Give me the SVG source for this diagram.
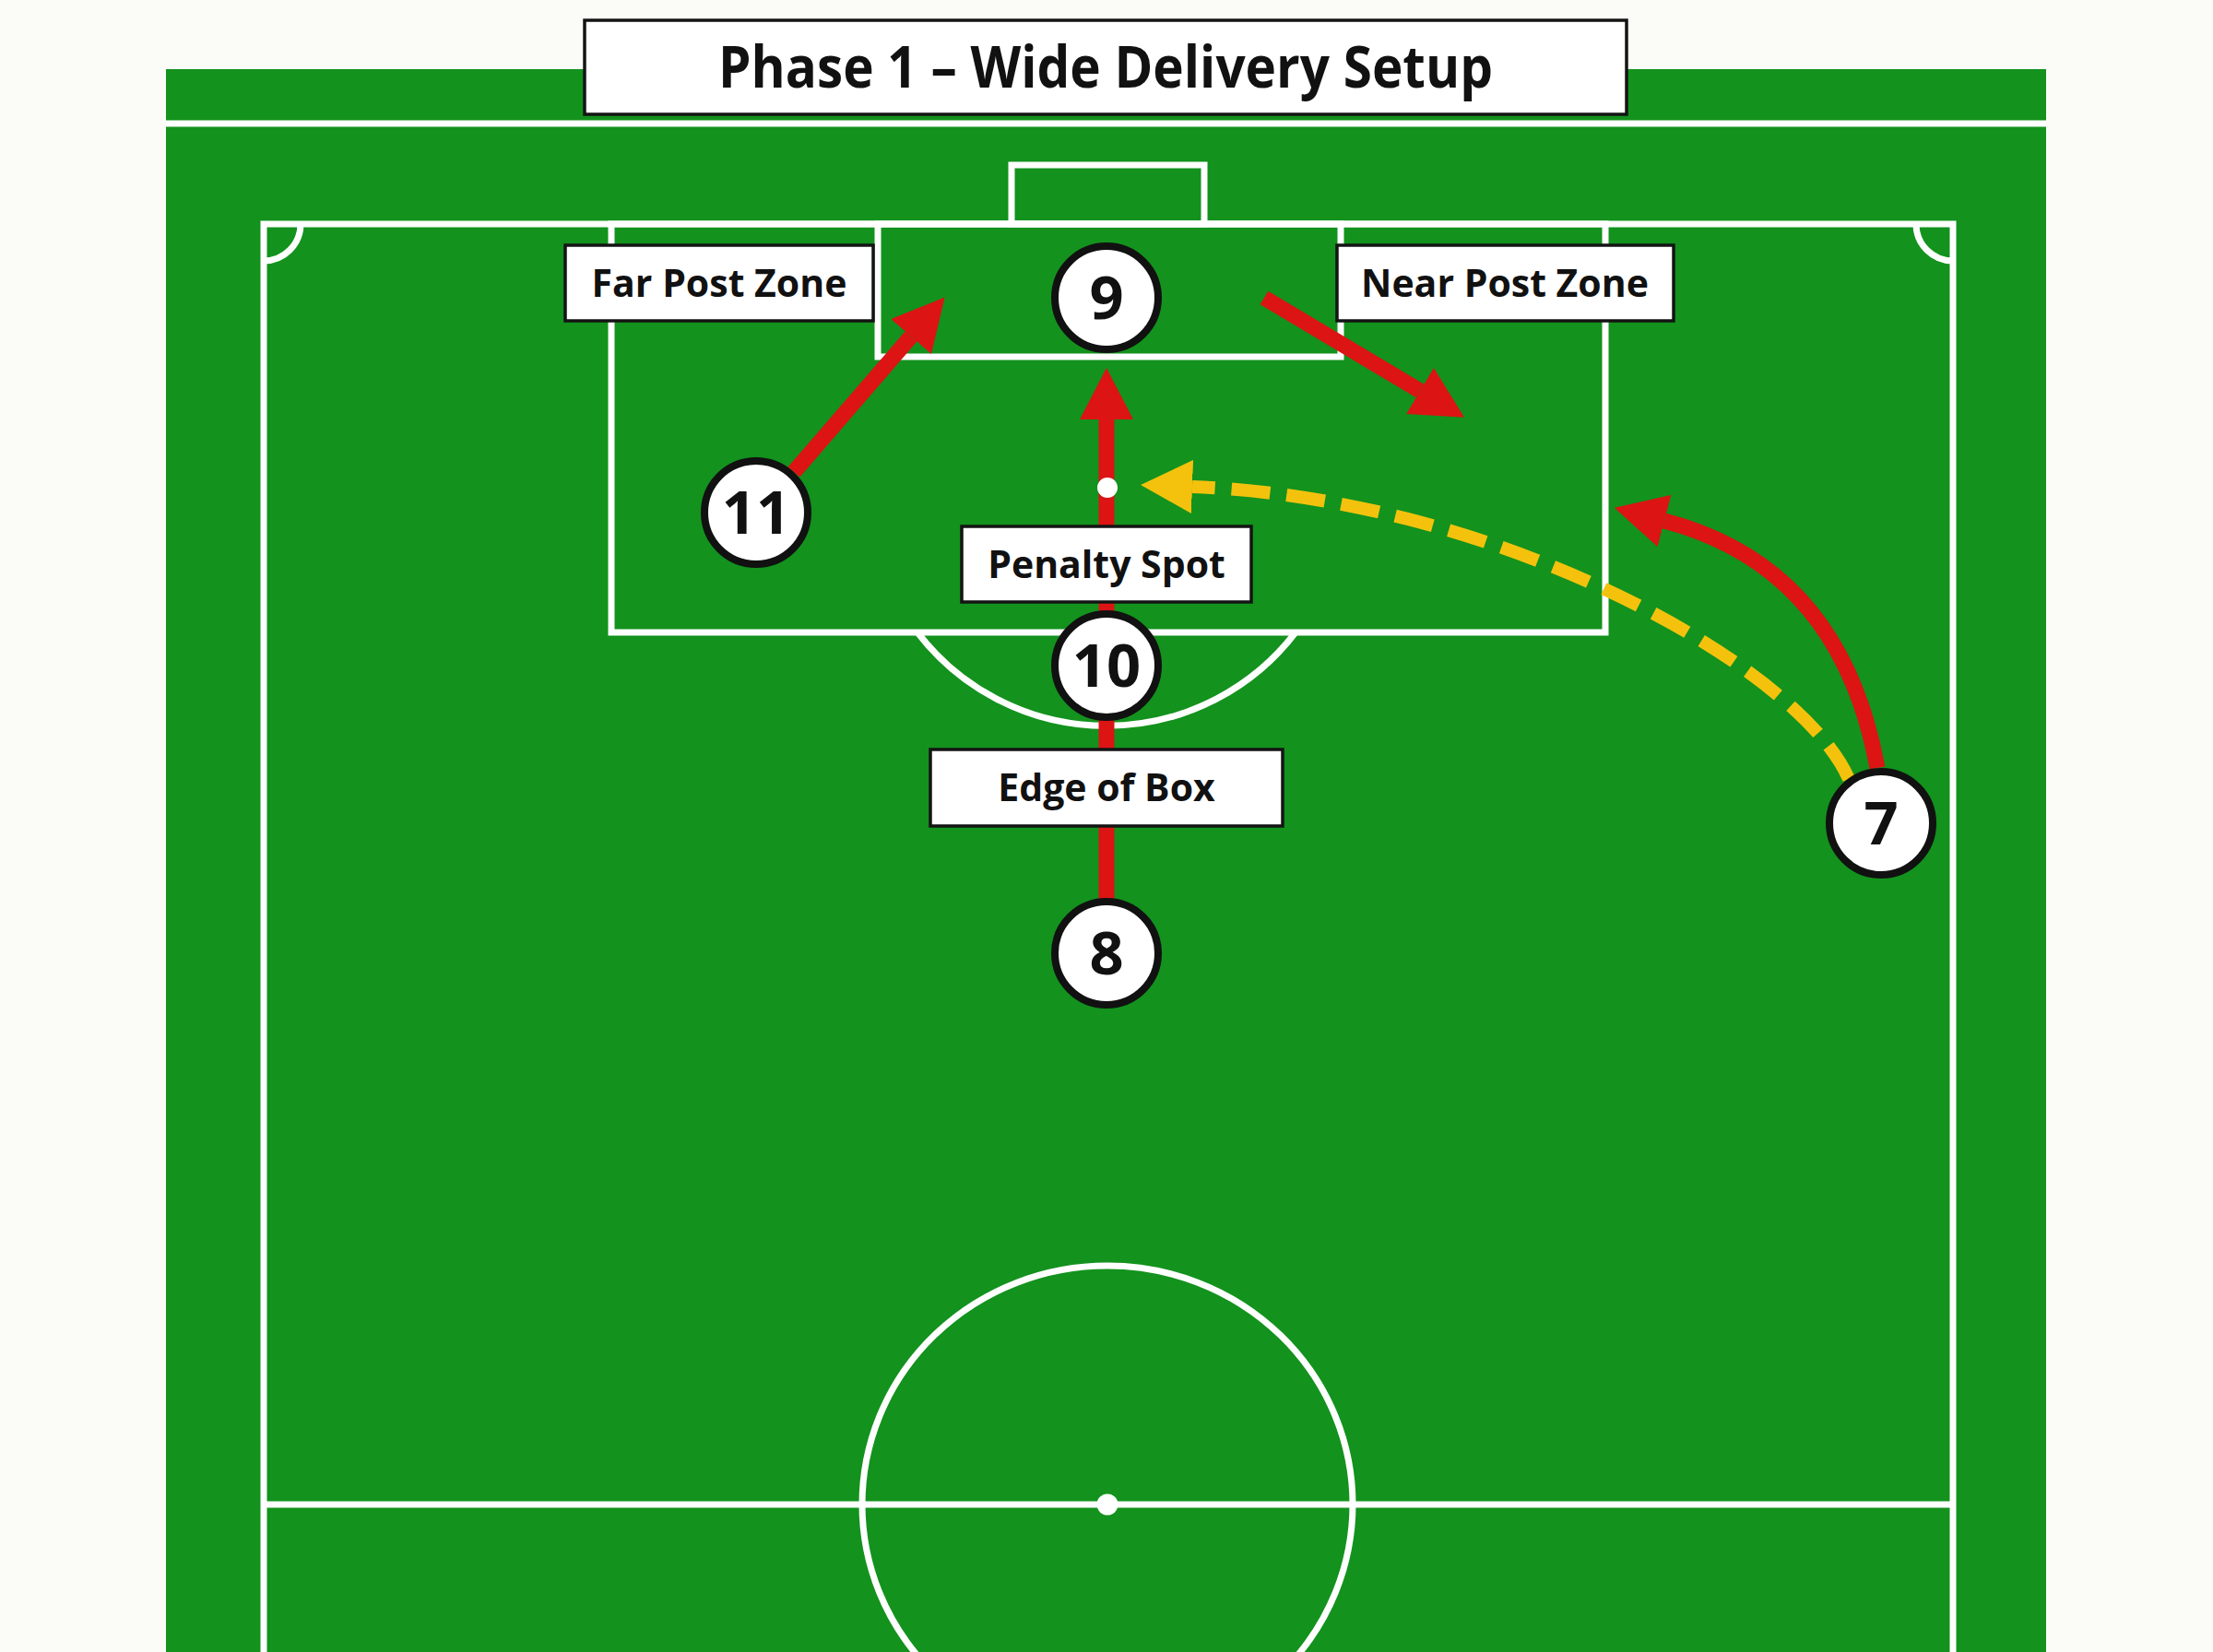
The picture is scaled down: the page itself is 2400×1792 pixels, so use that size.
<svg xmlns="http://www.w3.org/2000/svg" width="2400" height="1792" viewBox="0 0 2400 1792">
<style>
.mark{fill:none;stroke:#ffffff;stroke-width:7}
.lbl rect{fill:#ffffff;stroke:#141414;stroke-width:3.5}
.lbl text{font-family:"Open Sans","Liberation Sans",sans-serif;font-weight:700;font-size:41px;fill:#111111;text-anchor:middle}
.node circle{fill:#ffffff;stroke:#111111;stroke-width:8}
.node text{font-family:"Open Sans","Liberation Sans",sans-serif;font-weight:700;font-size:65px;fill:#111111;text-anchor:middle}
.run{fill:none;stroke:#dc1414;stroke-width:17}
.pass{fill:none;stroke:#f4c20d;stroke-width:14;stroke-dasharray:42 18}
</style>
<defs>
<marker id="ahRed" markerUnits="userSpaceOnUse" viewBox="0 0 56 58" markerWidth="56" markerHeight="58" refX="0" refY="29" orient="auto">
<path d="M0,0 L56,29 L0,58 Z" fill="#dc1414"/>
</marker>
<marker id="ahYellow" markerUnits="userSpaceOnUse" viewBox="0 0 56 58" markerWidth="56" markerHeight="58" refX="0" refY="29" orient="auto">
<path d="M0,0 L56,29 L0,58 Z" fill="#f4c20d"/>
</marker>
</defs>

<rect x="0" y="0" width="2400" height="1792" fill="#fbfbf8"/>

<g id="pitch">
<rect x="180" y="75" width="2039" height="1717" fill="#13921d"/>
<line class="mark" x1="180" y1="134" x2="2219" y2="134"/>
<path class="mark" d="M286 1792 L286 243 L2118 243 L2118 1792"/>
<path class="mark" d="M326 243 A40 40 0 0 1 286 283"/>
<path class="mark" d="M2078 243 A40 40 0 0 0 2118 283"/>
<rect class="mark" x="1097" y="179" width="209" height="64"/>
<rect class="mark" x="952" y="243" width="502" height="144"/>
<rect class="mark" x="663" y="243" width="1078" height="443"/>
<path class="mark" d="M995 686 A258 258 0 0 0 1405 686"/>
<line class="mark" x1="286" y1="1632" x2="2118" y2="1632"/>
<ellipse class="mark" cx="1201" cy="1632" rx="266" ry="259"/>
<circle cx="1201" cy="1632" r="11.5" fill="#ffffff"/>
</g>

<g id="connectors">
<path class="run" d="M1200 975 L1200 455" marker-end="url(#ahRed)"/>
<path class="run" d="M861 512 L988 365" marker-end="url(#ahRed)"/>
<path class="run" d="M1371 323 L1540 424" marker-end="url(#ahRed)"/>
<path class="run" d="M2036 833 Q1996 615 1805 565" marker-end="url(#ahRed)"/>
<path class="pass" d="M2005 845 C1950 720 1620 540 1293 528" marker-end="url(#ahYellow)"/>
</g>

<circle id="penalty-spot" cx="1201" cy="529" r="11" fill="#ffffff"/>

<g id="title" class="lbl">
<rect x="634" y="22" width="1130" height="102"/>
<text x="1199" y="95" style="font-size:62px" textLength="840" lengthAdjust="spacingAndGlyphs">Phase 1 – Wide Delivery Setup</text>
</g>

<g id="label-far-post" class="lbl">
<rect x="613" y="266" width="334" height="82"/>
<text x="780" y="322">Far Post Zone</text>
</g>
<g id="label-near-post" class="lbl">
<rect x="1450" y="266" width="365" height="82"/>
<text x="1632" y="322">Near Post Zone</text>
</g>
<g id="label-penalty-spot" class="lbl">
<rect x="1043" y="571" width="314" height="82"/>
<text x="1200" y="627">Penalty Spot</text>
</g>
<g id="label-edge-of-box" class="lbl">
<rect x="1009" y="813" width="382" height="83"/>
<text x="1200" y="869">Edge of Box</text>
</g>

<g id="node-9" class="node">
<circle cx="1200" cy="323" r="56"/>
<text x="1200" y="346">9</text>
</g>
<g id="node-11" class="node">
<circle cx="820" cy="556" r="56"/>
<text x="820" y="579">11</text>
</g>
<g id="node-10" class="node">
<circle cx="1200" cy="722" r="56"/>
<text x="1200" y="745">10</text>
</g>
<g id="node-8" class="node">
<circle cx="1200" cy="1034" r="56"/>
<text x="1200" y="1057">8</text>
</g>
<g id="node-7" class="node">
<circle cx="2040" cy="893" r="56"/>
<text x="2040" y="916">7</text>
</g>
</svg>
